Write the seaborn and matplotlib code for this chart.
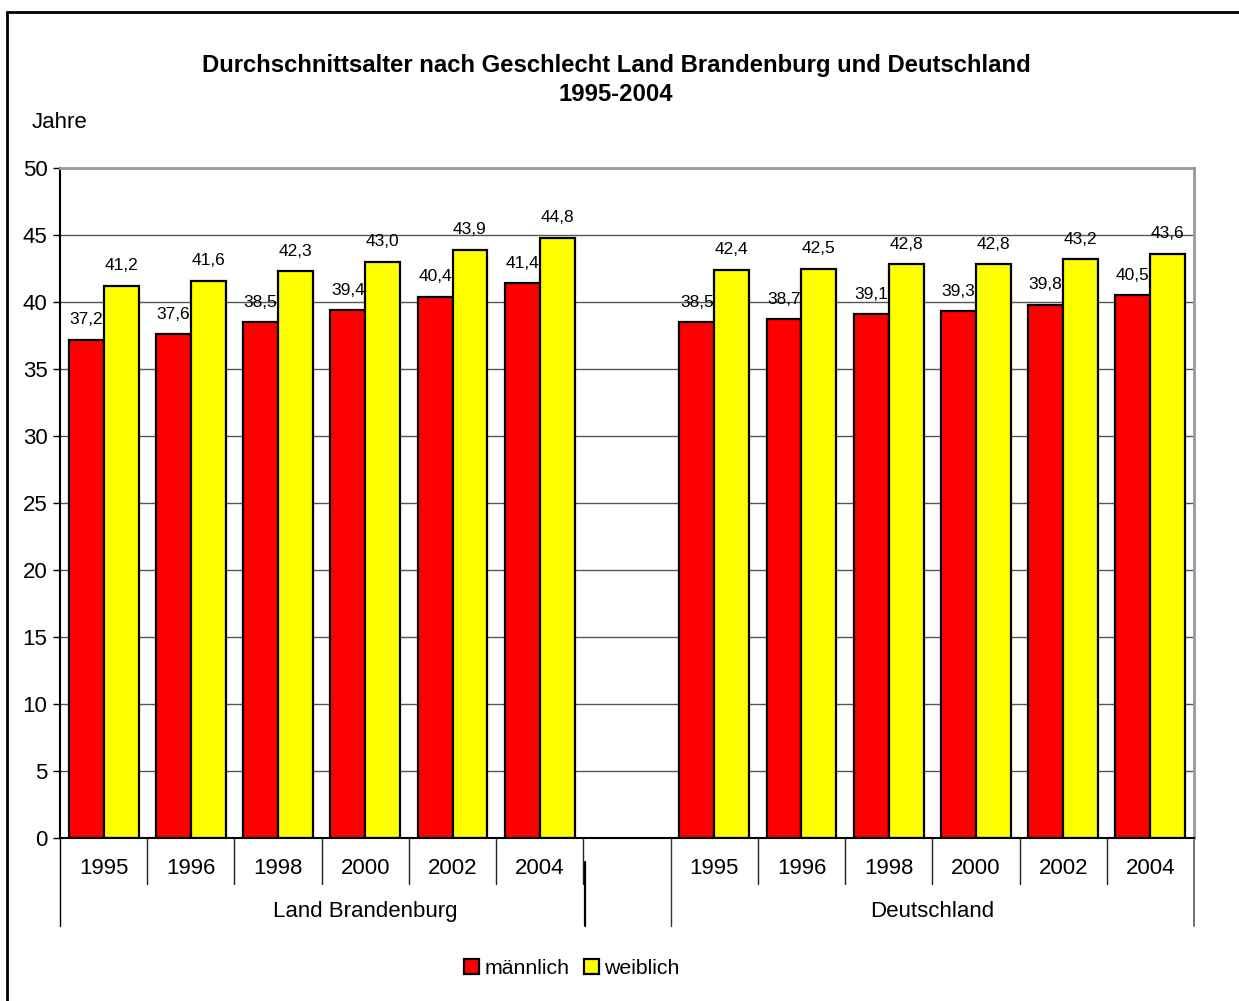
import pandas as pd
import seaborn as sns
import matplotlib.pyplot as plt
from matplotlib.patches import Rectangle, Patch

jahre = ["1995", "1996", "1998", "2000", "2002", "2004"]
regionen = ["Land Brandenburg", "Deutschland"]
geschlecht = ["männlich", "weiblich"]
bb_maennlich = [37.2, 37.6, 38.5, 39.4, 40.4, 41.4]
bb_weiblich = [41.2, 41.6, 42.3, 43.0, 43.9, 44.8]
de_maennlich = [38.5, 38.7, 39.1, 39.3, 39.8, 40.5]
de_weiblich = [42.4, 42.5, 42.8, 42.8, 43.2, 43.6]

rows = []
for region, m, w in [(regionen[0], bb_maennlich, bb_weiblich),
                     (regionen[1], de_maennlich, de_weiblich)]:
    for j, vm, vw in zip(jahre, m, w):
        rows.append((region + " " + j, geschlecht[0], vm))
        rows.append((region + " " + j, geschlecht[1], vw))
df = pd.DataFrame(rows, columns=["kategorie", "geschlecht", "alter"])

# leere Kategorie als Abstand zwischen den Regionen
order = [regionen[0] + " " + j for j in jahre] + [" "] + [regionen[1] + " " + j for j in jahre]
tick_labels = jahre + [""] + jahre

sns.set_theme(style="white")
plt.rcParams["font.family"] = ["Liberation Sans", "DejaVu Sans"]
plt.rcParams["text.color"] = "black"
plt.rcParams["ytick.color"] = "black"
plt.rcParams["xtick.color"] = "black"

fig = plt.figure(figsize=(12.39, 10.01), dpi=100)
ax = fig.add_axes([60 / 1239, 163 / 1001, 1134 / 1239, 670 / 1001])

sns.barplot(data=df, x="kategorie", y="alter", hue="geschlecht", order=order,
            hue_order=geschlecht, palette={"männlich": "#FF0000", "weiblich": "#FFFF00"},
            saturation=1, edgecolor="black", linewidth=1.6, errorbar=None,
            legend=False, ax=ax)

for cont in ax.containers:
    labels = [f"{v:.1f}".replace(".", ",") for v in cont.datavalues]
    ax.bar_label(cont, labels=labels, padding=9, fontsize=12.5, color="black")

ax.set_ylim(0, 50)
ax.set_xlim(-0.5, 12.5)
ax.set_yticks(range(0, 51, 5))
ax.set_xticks(range(13))
ax.set_xticklabels([])
ax.set_xlabel("")
ax.set_ylabel("")
ax.tick_params(axis="y", length=5, width=1, color="black", labelcolor="black",
               labelsize=16, pad=4, left=True)
ax.tick_params(axis="x", length=0)
ax.yaxis.grid(True, color="#555555", linewidth=1)
ax.set_axisbelow(True)

for s in ["left", "bottom"]:
    ax.spines[s].set_color("black")
    ax.spines[s].set_linewidth(1.5)
for s in ["top", "right"]:
    ax.spines[s].set_color("#999999")
    ax.spines[s].set_linewidth(2)

trans = ax.get_xaxis_transform()
for i, lab in enumerate(tick_labels):
    ax.text(i, -0.045, lab, transform=trans, ha="center", va="center", fontsize=16)
for x in [0.5, 1.5, 2.5, 3.5, 4.5, 5.5, 7.5, 8.5, 9.5, 10.5, 11.5]:
    ax.plot([x, x], [0, -0.068], transform=trans, color="#222222", lw=1, clip_on=False)
ax.plot([-0.5, -0.5], [0, -0.132], transform=trans, color="black", lw=1, clip_on=False)
ax.plot([5.52, 5.52], [-0.036, -0.132], transform=trans, color="black", lw=1.6, clip_on=False)
ax.plot([6.5, 6.5], [0, -0.132], transform=trans, color="#333333", lw=1, clip_on=False)
ax.plot([12.5, 12.5], [0, -0.132], transform=trans, color="#666666", lw=1.3, clip_on=False)
ax.text(3.0, -0.109, regionen[0], transform=trans, ha="center", va="center", fontsize=16)
ax.text(9.5, -0.109, regionen[1], transform=trans, ha="center", va="center", fontsize=16)

fig.text(616 / 1239, 1 - 80 / 1001, "Durchschnittsalter nach Geschlecht Land Brandenburg und Deutschland\n1995-2004",
         ha="center", va="center", fontsize=17.2, fontweight="bold", linespacing=1.3)
fig.text(32 / 1239, 1 - 123 / 1001, "Jahre", ha="left", va="center", fontsize=16)

handles = [Patch(facecolor="#FF0000", edgecolor="black", linewidth=1.6, label=geschlecht[0]),
           Patch(facecolor="#FFFF00", edgecolor="black", linewidth=1.6, label=geschlecht[1])]
fig.legend(handles=handles, loc="center", bbox_to_anchor=(572 / 1239, 1 - 968 / 1001), ncol=2,
           frameon=False, fontsize=15.3, handlelength=0.7, handleheight=0.7,
           handletextpad=0.25, columnspacing=0.7)

fig.patches.append(Rectangle((7 / 1239, -0.05), 1.2, 1 - 12 / 1001 + 0.05, transform=fig.transFigure,
                             fill=False, edgecolor="black", linewidth=2, zorder=0))

fig.savefig("out.png", dpi=100)
